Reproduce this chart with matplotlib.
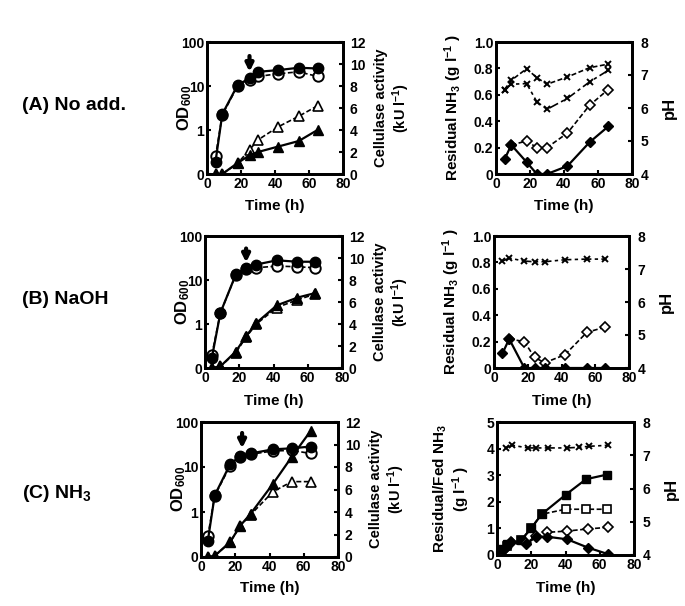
import numpy as np
import matplotlib.pyplot as plt

plt.rcParams["font.family"] = ["Liberation Sans", "DejaVu Sans"]
plt.rcParams["font.weight"] = "bold"
plt.rcParams["mathtext.fontset"] = "custom"
plt.rcParams["mathtext.rm"] = "Liberation Sans:bold"
plt.rcParams["mathtext.bf"] = "Liberation Sans:bold"
plt.rcParams["mathtext.it"] = "Liberation Sans:bold"
plt.rcParams["mathtext.default"] = "rm"
plt.rcParams["axes.linewidth"] = 2
plt.rcParams["xtick.direction"] = "in"
plt.rcParams["ytick.direction"] = "in"
plt.rcParams["xtick.major.width"] = 1.5
plt.rcParams["ytick.major.width"] = 1.5
plt.rcParams["xtick.major.size"] = 3
plt.rcParams["ytick.major.size"] = 3
plt.rcParams["xtick.labelsize"] = 10
plt.rcParams["ytick.labelsize"] = 10

# ---- (A) No addition ----
A_od_t = [5, 9, 18, 25, 30, 42, 54, 65]
A_od_filled = [0.19, 2.3, 10.5, 15, 21, 23, 26, 25]
A_od_open = [0.25, 2.2, 10, 14, 16.5, 19, 21, 16.5]
A_cel_filled = [0, 0, 1.0, 1.7, 2.0, 2.5, 3.0, 4.0]
A_cel_open = [0, 0, 0.97, 2.2, 3.1, 4.3, 5.25, 6.2]
A_nh_t = [5, 9, 18, 24, 30, 42, 55, 66]
A_nh_filled = [0.11, 0.22, 0.09, 0, 0, 0.06, 0.24, 0.36]
A_nh_open_t = [9, 18, 24, 30, 42, 55, 66]
A_nh_open = [0.22, 0.25, 0.2, 0.2, 0.31, 0.52, 0.64]
A_ph1 = [6.56, 6.84, 7.19, 6.92, 6.72, 6.94, 7.22, 7.33]
A_ph2 = [6.56, 6.72, 6.74, 6.19, 5.96, 6.29, 6.79, 7.14]
A_arrow_t = 25

# ---- (B) NaOH ----
B_od_t = [4, 9, 18, 24, 30, 42, 54, 64]
B_od_filled = [0.17, 1.8, 13.4, 19, 22.5, 28, 26, 26]
B_od_open = [0.2, 1.8, 13, 17.5, 19, 20.7, 20, 19]
B_cel_filled = [0, 0.15, 1.5, 2.9, 4.1, 5.7, 6.4, 6.8]
B_cel_open = [0, 0.15, 1.4, 2.8, 4.0, 5.5, 6.2, 6.7]
B_nh_t = [5, 9, 18, 24, 30, 42, 55, 66]
B_nh_filled = [0.11, 0.22, 0, 0, 0, 0, 0, 0]
B_nh_open_t = [9, 18, 24, 30, 42, 55, 66]
B_nh_open = [0.22, 0.2, 0.08, 0.04, 0.1, 0.27, 0.31]
B_ph = [7.24, 7.33, 7.24, 7.22, 7.22, 7.28, 7.3, 7.3]
B_arrow_t = 24

# ---- (C) NH3 ----
C_od_t = [4, 8, 17, 23, 29, 42, 53, 64]
C_od_filled = [0.23, 2.35, 11.5, 17.6, 20, 24.7, 26, 28.5]
C_od_open = [0.29, 2.3, 10.6, 17, 19.2, 22.7, 23.4, 20]
C_cel_filled = [0, 0.1, 1.33, 2.8, 3.85, 6.5, 8.9, 11.2]
C_cel_open = [0, 0.1, 1.3, 2.8, 3.76, 5.8, 6.7, 6.7]
C_fed_t = [2, 6, 14, 20, 26, 40, 52, 64]
C_fed_filled = [0.23, 0.4, 0.55, 1.0, 1.53, 2.26, 2.85, 3.02]
C_fed_open = [0.12, 0.32, 0.55, 1.03, 1.53, 1.72, 1.72, 1.72]
C_nh_t = [4, 8, 17, 23, 29, 41, 53, 65]
C_nh_filled = [0.23, 0.5, 0.41, 0.69, 0.69, 0.59, 0.28, 0.03]
C_nh_open = [0.2, 0.48, 0.45, 0.72, 0.85, 0.9, 0.98, 1.04]
C_ph_t = [5, 9, 18, 23, 30, 41, 48, 54, 65]
C_ph = [7.22, 7.3, 7.22, 7.22, 7.22, 7.22, 7.24, 7.27, 7.3]
C_arrow_t = 24

W, H = 685, 606
fig = plt.figure(figsize=(W / 100, H / 100), dpi=100)


def box(x0, x1, y0, y1):
    return [x0 / W, 1 - y1 / H, (x1 - x0) / W, (y1 - y0) / H]


def ptxt(x, y, s, **kw):
    fig.text(x / W, 1 - y / H, s, ha="center", va="center", **kw)


dash = (0, (3, 1.5))
dashdot = (0, (6, 2, 2, 2))


def growth_panel(rect, t, od_f, od_o, cel_f, cel_o, arrow_t, arrow_y):
    ax = fig.add_axes(rect)
    ax.set_yscale("log")
    ax.set_xlim(0, 80)
    ax.set_ylim(0.1, 100)
    ax.set_yticks([0.1, 1, 10, 100])
    ax.set_yticklabels(["0", "1", "10", "100"])
    ax.minorticks_off()
    ax.set_xticks([0, 20, 40, 60, 80])
    ax.plot(t, od_o, ls=dash, lw=1.2, color="k", marker="o", ms=7.5, mfc="white", mec="k", mew=1.4)
    ax.plot(t, od_f, ls="-", lw=1.6, color="k", marker="o", ms=7.5, mfc="k", mec="k")
    ax.annotate("", xy=(arrow_t, arrow_y[1]), xytext=(arrow_t, arrow_y[0]),
                arrowprops=dict(arrowstyle="-|>", color="k", lw=3, mutation_scale=11,
                                shrinkA=0, shrinkB=0))
    ax2 = ax.twinx()
    ax2.set_ylim(0, 12)
    ax2.set_yticks([0, 2, 4, 6, 8, 10, 12])
    ax2.plot(t, cel_o, ls=dash, lw=1.2, color="k", marker="^", ms=6.5, mfc="white", mec="k", mew=1.2)
    ax2.plot(t, cel_f, ls="-", lw=1.6, color="k", marker="^", ms=6.5, mfc="k", mec="k")
    ax.tick_params(pad=2)
    ax2.tick_params(pad=5)
    return ax, ax2


def nh3_panel(rect, ymax, yticks, ylabels):
    ax = fig.add_axes(rect)
    ax.set_xlim(0, 80)
    ax.set_ylim(0, ymax)
    ax.set_yticks(yticks)
    ax.set_yticklabels(ylabels)
    ax.set_xticks([0, 20, 40, 60, 80])
    ax2 = ax.twinx()
    ax2.set_ylim(4, 8)
    ax2.set_yticks([4, 5, 6, 7, 8])
    ax.tick_params(pad=2)
    ax2.tick_params(pad=6)
    return ax, ax2


nh_ticks = [0, 0.2, 0.4, 0.6, 0.8, 1.0]
nh_labels = ["0", "0.2", "0.4", "0.6", "0.8", "1.0"]
dkw = dict(marker="D", ms=5.5, color="k", mec="k")
xkw = dict(marker="x", ms=5, color="k", mew=1.4, lw=1.2)

# (A)
growth_panel(box(207, 343, 42, 174), A_od_t, A_od_filled, A_od_open, A_cel_filled, A_cel_open,
             A_arrow_t, (48, 21))
ax, ax2 = nh3_panel(box(496, 632, 42, 174), 1.0, nh_ticks, nh_labels)
ax.plot(A_nh_open_t, A_nh_open, ls=dash, lw=1.2, mfc="white", mew=1.2, **dkw)
ax.plot(A_nh_t, A_nh_filled, ls="-", lw=1.6, mfc="k", **dkw)
ax2.plot(A_nh_t, A_ph1, ls=dash, **xkw)
ax2.plot(A_nh_t, A_ph2, ls=dashdot, **xkw)

# (B)
growth_panel(box(205, 342, 236, 368), B_od_t, B_od_filled, B_od_open, B_cel_filled, B_cel_open,
             B_arrow_t, (52, 25))
ax, ax2 = nh3_panel(box(494, 629, 236, 368), 1.0, nh_ticks, nh_labels)
ax.plot(B_nh_open_t, B_nh_open, ls=dash, lw=1.2, mfc="white", mew=1.2, **dkw)
ax.plot(B_nh_t, B_nh_filled, ls="-", lw=1.6, mfc="k", **dkw)
ax2.plot(B_nh_t, B_ph, ls=dashdot, **xkw)

# (C)
growth_panel(box(201, 338, 422, 557), C_od_t, C_od_filled, C_od_open, C_cel_filled, C_cel_open,
             C_arrow_t, (57, 26))
ax, ax2 = nh3_panel(box(497, 634, 422, 555), 5, [0, 1, 2, 3, 4, 5], ["0", "1", "2", "3", "4", "5"])
ax.plot(C_fed_t, C_fed_open, ls=dash, lw=1.2, color="k", marker="s", ms=5.5, mfc="white", mec="k", mew=1.2)
ax.plot(C_fed_t, C_fed_filled, ls="-", lw=1.6, color="k", marker="s", ms=5.5, mfc="k", mec="k")
ax.plot(C_nh_t, C_nh_open, ls=dash, lw=1.2, mfc="white", mew=1.2, **dkw)
ax.plot(C_nh_t, C_nh_filled, ls="-", lw=1.6, mfc="k", **dkw)
ax2.plot(C_ph_t, C_ph, ls=dashdot, **xkw)

# row labels
for y, s in [(106, "(A) No add."), (300, "(B) NaOH"), (494, "(C) NH$_3$")]:
    fig.text(22 / W, 1 - y / H, s, ha="left", va="center", fontsize=14)

# axis labels
for (xl, xr, y_mid, y_time) in [(207, 343, 108, 206), (205, 342, 302, 401), (201, 338, 489, 588)]:
    ptxt(xl - 22, y_mid, "OD$_{600}$", rotation=90, fontsize=12)
    ptxt(xr + 50, y_mid, "Cellulase activity\n(kU l$^{-1}$)", rotation=90, fontsize=10.5, linespacing=1.1)
    ptxt((xl + xr) / 2, y_time, "Time (h)", fontsize=11)

for (xl, xr, y_mid, y_time) in [(496, 632, 108, 206), (494, 629, 302, 401)]:
    ptxt(xl - 43, y_mid, "Residual NH$_3$ (g l$^{-1}$ )", rotation=90, fontsize=11)
    ptxt(xr + 37, y_mid, "pH", rotation=90, fontsize=12)
    ptxt((xl + xr) / 2, y_time, "Time (h)", fontsize=11)

ptxt(452, 489, "Residual/Fed NH$_3$\n(g l$^{-1}$ )", rotation=90, fontsize=11, linespacing=1.1)
ptxt(634 + 37, 489, "pH", rotation=90, fontsize=12)
ptxt((497 + 634) / 2, 588, "Time (h)", fontsize=11)

fig.savefig("out.png", dpi=100)
